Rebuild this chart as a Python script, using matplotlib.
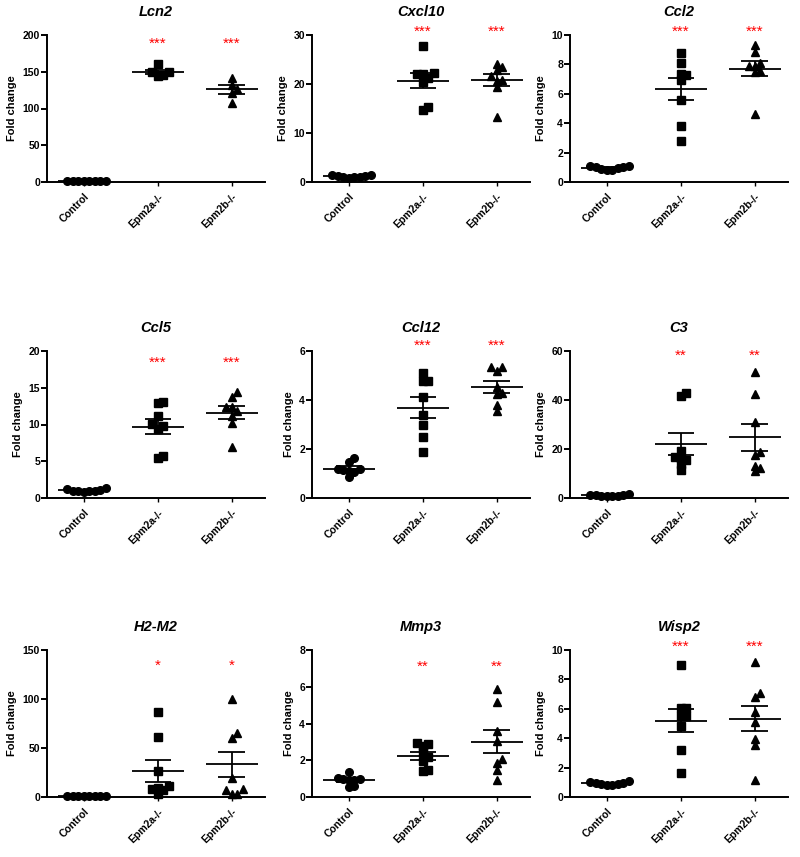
import numpy as np
import matplotlib
matplotlib.use("Agg")
import matplotlib.pyplot as plt

plt.rcParams['font.family'] = ['Liberation Sans', 'DejaVu Sans']

groups = ["Control", "Epm2a-/-", "Epm2b-/-"]
genes = ["Lcn2", "Cxcl10", "Ccl2", "Ccl5", "Ccl12", "C3", "H2-M2", "Mmp3", "Wisp2"]

# fold change per gene: control, Epm2a-/-, Epm2b-/-
lcn2 = [[0.8, 1.0, 1.2, 0.9, 1.1, 1.0, 0.9, 1.1],
        [160, 146, 150, 144, 149],
        [142, 132, 121, 108, 127]]
cxcl10 = [[1.3, 1.0, 0.9, 1.1, 1.4, 1.5, 1.2, 1.0],
          [27.7, 22.3, 22.0, 22.0, 21.3, 20.4, 15.3, 14.7],
          [24.1, 23.5, 22.8, 21.6, 20.8, 19.3, 13.3, 20.7]]
ccl2 = [[1.05, 0.9, 0.8, 1.0, 1.1, 0.85, 0.95, 1.1],
        [8.8, 8.1, 7.27, 7.34, 6.93, 5.57, 3.82, 2.8],
        [9.32, 8.82, 8.11, 7.9, 7.5, 7.9, 7.55, 4.65]]
ccl5 = [[1.0, 0.9, 1.1, 0.8, 0.9, 1.2, 1.4, 1.0],
        [13.1, 12.9, 11.2, 10.1, 9.8, 9.4, 5.7, 5.4],
        [14.4, 13.7, 12.4, 12.35, 11.9, 11.2, 10.2, 6.9]]
ccl12 = [[1.63, 1.45, 1.2, 1.15, 1.05, 0.85, 1.1, 1.2],
         [5.09, 4.78, 4.78, 4.14, 3.39, 2.96, 2.51, 1.87],
         [5.33, 5.2, 5.33, 4.52, 4.27, 4.23, 3.8, 3.55]]
c3 = [[1.2, 0.9, 1.5, 0.8, 1.0, 1.3, 0.7, 1.1],
      [43.0, 41.7, 19.0, 16.3, 15.6, 13.8, 16.6, 11.5],
      [51.6, 42.5, 31.2, 18.6, 17.6, 13.2, 10.9, 12.2]]
h2m2 = [[1.0, 0.8, 1.2, 0.9, 1.1, 1.3, 0.7, 1.0],
        [87.2, 61.1, 26.1, 10.9, 7.5, 8.1, 9.2, 3.1],
        [100, 60.7, 65.1, 19.3, 6.8, 8.1, 3.1, 3.1]]
mmp3 = [[1.36, 1.0, 0.95, 0.9, 1.05, 0.58, 0.55, 0.97],
        [2.93, 2.75, 2.88, 2.45, 2.2, 1.97, 1.45, 1.4],
        [5.86, 5.19, 3.6, 3.06, 2.06, 1.85, 1.48, 0.94]]
wisp2 = [[0.95, 0.85, 0.9, 1.0, 0.8, 0.95, 1.1, 0.9],
         [8.98, 6.04, 6.04, 5.48, 5.48, 4.8, 3.17, 1.63],
         [9.21, 7.1, 6.83, 5.77, 5.09, 3.94, 3.55, 1.18]]
all_data = [lcn2, cxcl10, ccl2, ccl5, ccl12, c3, h2m2, mmp3, wisp2]

y_max = [200, 30, 10, 20, 6, 60, 150, 8, 10]
y_step = [50, 10, 2, 5, 2, 20, 50, 2, 2]
stars = ["***", "***", "***", "***", "***", "**", "*", "**", "***"]
star_y = [188, 30.6, 10.2, 18.4, 6.2, 58, 134, 7.1, 10.2]

markers = ["o", "s", "^"]

W, H = 800, 857
lefts = [47, 312, 570]
tops = [35, 351, 650]
ax_w, ax_h = 218, 147


def swarm(vals, ymax, step_px=5.5):
    # simple beeswarm offsets in x (data units), 74 px per category
    ys = np.asarray(vals) / ymax * ax_h
    placed = []
    offs = np.zeros(len(vals))
    for i in np.argsort(ys):
        k = 0
        while True:
            cand = ((k + 1) // 2) * (1 if k % 2 else -1) * step_px
            if all((cand - px) ** 2 + (ys[i] - py) ** 2 >= step_px ** 2 for px, py in placed):
                break
            k += 1
        placed.append((cand, ys[i]))
        offs[i] = cand / 74.0
    return offs


fig = plt.figure(figsize=(8, 8.57), dpi=100)

for idx, gene in enumerate(genes):
    r, c = divmod(idx, 3)
    ax = fig.add_axes([lefts[c] / W, 1 - (tops[r] + ax_h) / H, ax_w / W, ax_h / H])
    data = all_data[idx]
    for g, vals in enumerate(data):
        vals = np.array(vals, dtype=float)
        xs = g + swarm(vals, y_max[idx])
        ax.plot(xs, vals, linestyle="none", marker=markers[g], color="black",
                ms=5.5 if g != 2 else 6, clip_on=False, zorder=3)
        m = vals.mean()
        sem = vals.std(ddof=1) / np.sqrt(len(vals))
        ax.hlines(m, g - 0.35, g + 0.35, color="black", lw=1.3, zorder=4)
        ax.hlines([m - sem, m + sem], g - 0.18, g + 0.18, color="black", lw=1.3, zorder=4)
        ax.vlines(g, m - sem, m + sem, color="black", lw=1.3, zorder=4)
        if g > 0:
            ax.text(g, star_y[idx], stars[idx], color="red", ha="center", va="center",
                    fontsize=11, clip_on=False)

    ax.set_xlim(-0.5, 2.45)
    ax.set_ylim(0, y_max[idx])
    ax.set_yticks(np.arange(0, y_max[idx] + y_step[idx] / 2, y_step[idx]))
    ax.set_xticks(range(3))
    ax.set_xticklabels(groups, rotation=45, ha="right", rotation_mode="anchor",
                       fontsize=7.5, fontweight="bold")
    for lab in ax.get_yticklabels():
        lab.set_fontweight("bold")
        lab.set_fontsize(7.5)
    ax.spines["top"].set_visible(False)
    ax.spines["right"].set_visible(False)
    ax.spines["left"].set_linewidth(1.4)
    ax.spines["bottom"].set_linewidth(1.4)
    ax.tick_params(axis="y", length=4, width=1.4, pad=1)
    ax.tick_params(axis="x", length=3, width=1.0, pad=4)
    ax.set_ylabel("Fold change", fontsize=8, fontweight="bold", labelpad=4)
    ax.set_title(gene, fontsize=10.5, fontweight="bold", fontstyle="italic", pad=14)

fig.savefig("out.png", dpi=100)
